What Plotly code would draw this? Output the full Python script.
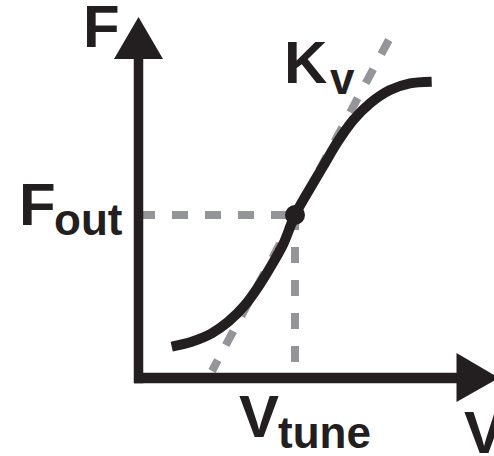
import plotly.graph_objects as go

# ---- data (schematic units: origin at axes corner) ----
curve_x = [3.32, 5.32, 7.32, 8.98, 10.65, 11.98, 13.32, 14.48, 15.65, 17.15, 18.48,
           19.82, 21.48, 23.15, 25.15, 27.15, 29.32]
curve_y = [3.13, 3.63, 4.47, 5.63, 7.3, 9.13, 11.3, 13.4, 16.3, 18.95, 21.2,
           23.47, 25.8, 27.47, 28.8, 29.47, 29.63]
op_x = [15.65]          # operating point V_tune
op_y = [16.3]           # operating point F_out
tangent_x = [25.03, 7.35]
tangent_y = [33.8, 0.7]
hline_x = [0.05, 15.65]
hline_y = [16.3, 16.3]
vline_x = [15.65, 15.65]
vline_y = [1.6, 16.3]

yaxis_x = [0, 0]
yaxis_y = [-0.53, 31.9]
xaxis_x = [-0.45, 31.85]
xaxis_y = [0, 0]
yhead_x = [-2.45, 0, 2.45, -2.45]
yhead_y = [31.9, 36.1, 31.9, 31.9]
xhead_x = [31.8, 36.05, 31.8, 31.8]
xhead_y = [2.5, 0, -2.4, 2.5]

BLACK = "#231f20"
GRAY = "#939598"
FONT = "Liberation Sans, Arial, sans-serif"

fig = go.Figure()

# dashed guides
fig.add_trace(go.Scatter(x=hline_x, y=hline_y, mode="lines",
                         line=dict(color=GRAY, width=8, dash="16px,17px")))
fig.add_trace(go.Scatter(x=vline_x, y=vline_y, mode="lines",
                         line=dict(color=GRAY, width=8, dash="16px,17px")))
fig.add_trace(go.Scatter(x=tangent_x, y=tangent_y, mode="lines",
                         line=dict(color=GRAY, width=8, dash="16px,17px")))

# axes
fig.add_trace(go.Scatter(x=yaxis_x, y=yaxis_y, mode="lines", line=dict(color=BLACK, width=9.5)))
fig.add_trace(go.Scatter(x=xaxis_x, y=xaxis_y, mode="lines", line=dict(color=BLACK, width=10.5)))
fig.add_trace(go.Scatter(x=yhead_x, y=yhead_y, mode="lines", fill="toself",
                         fillcolor=BLACK, line=dict(color=BLACK, width=0)))
fig.add_trace(go.Scatter(x=xhead_x, y=xhead_y, mode="lines", fill="toself",
                         fillcolor=BLACK, line=dict(color=BLACK, width=0)))

# curve
fig.add_trace(go.Scatter(x=curve_x, y=curve_y, mode="lines",
                         line=dict(color=BLACK, width=10, shape="spline", smoothing=0.8)))
fig.add_trace(go.Scatter(x=op_x, y=op_y, mode="markers",
                         marker=dict(color=BLACK, size=20, line=dict(width=0))))

def label(x, y, text, size):
    fig.add_annotation(x=x, y=y, text=text, showarrow=False, xanchor="left", yanchor="middle",
                       borderpad=0, font=dict(family=FONT, size=size, color=BLACK))

label(-5.65, 35.2, "<b>F</b>", 60)
label(-12.05, 17.4, "<b>F</b>", 60)
label(-8.55, 15.9, "<b>out</b>", 44)
label(14.45, 31.6, "<b>K</b>", 60)
label(19.05, 30.0, "<b>v</b>", 44)
label(9.95, -3.8, "<b>V</b>", 60)
label(13.85, -5.4, "<b>tune</b>", 44)
label(32.45, -5.4, "<b>V</b>", 60)

fig.update_layout(
    width=494, height=456, margin=dict(l=0, r=0, t=0, b=0),
    paper_bgcolor="white", plot_bgcolor="white", showlegend=False,
    xaxis=dict(range=[-13.85, 35.55], visible=False, fixedrange=True),
    yaxis=dict(range=[-7.8, 37.8], visible=False, fixedrange=True),
)
fig.write_html("out.html", config={"displayModeBar": False},
               post_script="document.body.style.margin='0';document.body.style.padding='0';")
